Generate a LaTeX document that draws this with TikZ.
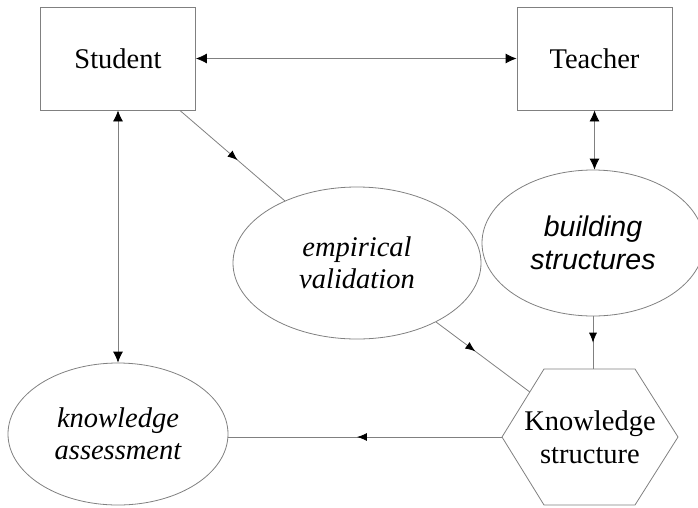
\documentclass[tikz,border=0pt]{standalone}
\usepackage{fontspec}
\setmainfont{Liberation Serif}
\newfontfamily\arialfont{Liberation Sans}
\usetikzlibrary{arrows.meta,decorations.markings,calc,shapes.geometric}
\definecolor{linegray}{RGB}{128,128,128}
\begin{document}
\begin{tikzpicture}[x=1pt,y=-1pt,
  txt/.style={font=\fontsize{28.5}{33}\selectfont},
  boxnode/.style={txt, draw=linegray, line width=0.8pt, minimum width=155pt, minimum height=103pt, inner sep=0pt},
  oval/.style={txt, ellipse, draw=linegray, line width=0.8pt, inner sep=0pt, align=center},
  link/.style={draw=linegray, line width=0.8pt},
  both/.style={link, {Latex[length=11pt,width=10pt,color=black]}-{Latex[length=11pt,width=10pt,color=black]}},
  midarrow/.style={link, postaction={decorate}, decoration={markings, mark=at position #1 with {\arrow{Latex[length=10pt,width=8pt,color=black]}}}}]
\useasboundingbox (0,0) rectangle (698,507);
% nodes
\node[boxnode] (stud) at (118,58.5) {Student};
\node[boxnode] (teach) at (594.5,58.5) {Teacher};
\node[oval, minimum width=222pt, minimum height=146pt, font=\arialfont\itshape\fontsize{28.5}{33}\selectfont] (build) at (593,243) {building\\structures};
\node[oval, minimum width=248pt, minimum height=152pt, font=\itshape\fontsize{28.5}{32}\selectfont] (emp) at (357,263) {empirical\\validation};
\node[oval, minimum width=220pt, minimum height=142pt, font=\itshape\fontsize{28.5}{32}\selectfont] (assess) at (118,434) {knowledge\\assessment};
% hexagon
\coordinate (hexTL) at (544,369);
\coordinate (hexTR) at (635,369);
\coordinate (hexR) at (678,437);
\coordinate (hexBR) at (635,505);
\coordinate (hexBL) at (544,505);
\coordinate (hexL) at (502,437);
\draw[link] (hexTL) -- (hexTR) -- (hexR) -- (hexBR) -- (hexBL) -- (hexL) -- cycle;
\node[txt, align=center, inner sep=0pt] (know) at (590,437) {Knowledge\\structure};
\coordinate (hexUL) at ($(hexL)!0.662!(hexTL)$);
\coordinate (hexT) at (build.south |- hexTL);
% connectors
\draw[both] (stud.east) -- (teach.west);
\draw[both] (stud.south) -- (assess.north);
\draw[both] (teach.south) -- (teach.south |- build.north);
\draw[midarrow=0.55] (stud.-40) -- (emp);
\draw[midarrow=0.5] (build.south) -- (hexT);
\draw[midarrow=0.42] (emp) -- (hexUL);
\draw[midarrow=0.53] (hexL) -- (hexL -| assess.east);
\end{tikzpicture}
\end{document}
